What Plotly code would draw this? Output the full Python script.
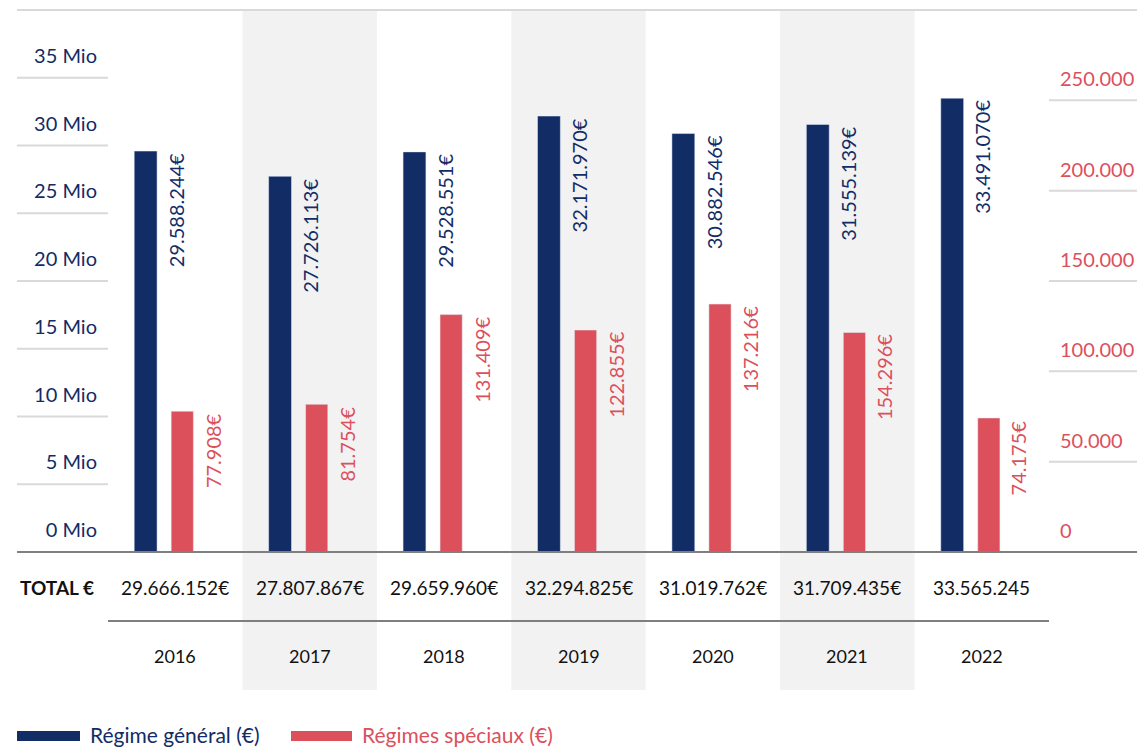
import plotly.graph_objects as go

years = ["2016", "2017", "2018", "2019", "2020", "2021", "2022"]
regime_general = [29588244, 27726113, 29528551, 32171970, 30882546, 31555139, 33491070]
regimes_speciaux = [77908, 81754, 131409, 122855, 137216, 154296, 74175]
# heights of the red bars as drawn in the source (2021 bar is drawn lower than its label)
regimes_speciaux_bar = [77908, 81754, 131409, 122855, 137216, 121500, 74175]
totals = ["29.666.152€", "27.807.867€", "29.659.960€", "32.294.825€",
          "31.019.762€", "31.709.435€", "33.565.245"]
left_ticks = [0, 5, 10, 15, 20, 25, 30, 35]
right_ticks = [0, 50000, 100000, 150000, 200000, 250000]

NAVY = "#122C66"
RED = "#DC505C"
BAND = "#F2F2F2"
GRID = "#D9D9D9"
RULE = "#7F7F7F"
FONT = "Lato"


def fmt(v):
    return f"{v:,}".replace(",", ".") + "€"


x = list(range(len(years)))
fig = go.Figure()

fig.add_trace(go.Bar(
    x=x, y=[v / 1e6 for v in regime_general], name="Régime général (€)",
    marker_color=NAVY, width=0.17, offset=-0.305, yaxis="y", showlegend=False,
))
fig.add_trace(go.Bar(
    x=x, y=regimes_speciaux_bar, name="Régimes spéciaux (€)",
    marker_color=RED, width=0.165, offset=-0.03, yaxis="y2", showlegend=False,
))

# vertical value labels next to each bar
for i in x:
    fig.add_annotation(x=i - 0.135, y=regime_general[i] / 1e6, xref="x", yref="y",
                       text=fmt(regime_general[i]), textangle=-90, showarrow=False,
                       xanchor="left", yanchor="top", xshift=5,
                       font=dict(family=FONT, size=20, color=NAVY))
    fig.add_annotation(x=i + 0.135, y=regimes_speciaux_bar[i], xref="x", yref="y2",
                       text=fmt(regimes_speciaux[i]), textangle=-90, showarrow=False,
                       xanchor="left", yanchor="top", xshift=5,
                       font=dict(family=FONT, size=20, color=RED))
    # totals and year rows under the chart
    fig.add_annotation(x=i, y=1 - 587 / 748, xref="x", yref="paper", text=totals[i],
                       showarrow=False, xanchor="center", yanchor="middle",
                       font=dict(family=FONT, size=19, color="#111111"))
    fig.add_annotation(x=i, y=1 - 656 / 748, xref="x", yref="paper", text=years[i],
                       showarrow=False, xanchor="center", yanchor="middle",
                       font=dict(family=FONT, size=18, color="#111111"))

# shaded columns for every other year
for i in x[1::2]:
    fig.add_shape(type="rect", xref="x", yref="paper", x0=i - 0.5, x1=i + 0.5,
                  y0=1 - 690 / 748, y1=1 - 10 / 748, fillcolor=BAND, line_width=0,
                  layer="below")

# side gridlines (only in the axis label columns)
for t in left_ticks[1:]:
    fig.add_shape(type="line", xref="paper", yref="y", x0=-91 / 941, x1=0, y0=t, y1=t,
                  line=dict(color=GRID, width=2))
for t in right_ticks[1:]:
    fig.add_shape(type="line", xref="paper", yref="y2", x0=1, x1=1 + 88 / 941, y0=t, y1=t,
                  line=dict(color=GRID, width=2))

# top rule, baseline and table rule
fig.add_shape(type="line", xref="paper", yref="paper", x0=-91 / 941, x1=1 + 88 / 941,
              y0=1 - 10 / 748, y1=1 - 10 / 748, line=dict(color=GRID, width=2))
fig.add_shape(type="line", xref="paper", yref="paper", x0=-91 / 941, x1=1 + 88 / 941,
              y0=1 - 552 / 748, y1=1 - 552 / 748, line=dict(color=RULE, width=2))
fig.add_shape(type="line", xref="paper", yref="paper", x0=0, x1=1,
              y0=1 - 621 / 748, y1=1 - 621 / 748, line=dict(color=RULE, width=2))

fig.add_annotation(x=-90 / 941, y=1 - 587 / 748, xref="paper", yref="paper",
                   text="<b>TOTAL €</b>", showarrow=False, xanchor="left", yanchor="middle",
                   font=dict(family=FONT, size=19, color="#111111"))

# legend drawn by hand
fig.add_shape(type="rect", xref="paper", yref="paper", x0=-91 / 941, x1=-28 / 941,
              y0=1 - 741 / 748, y1=1 - 731 / 748, fillcolor=NAVY, line_width=0)
fig.add_annotation(x=-20 / 941, y=1 - 734 / 748, xref="paper", yref="paper",
                   text="Régime général (€)", showarrow=False, xanchor="left",
                   yanchor="middle", font=dict(family=FONT, size=21, color=NAVY))
fig.add_shape(type="rect", xref="paper", yref="paper", x0=183 / 941, x1=244 / 941,
              y0=1 - 741 / 748, y1=1 - 731 / 748, fillcolor=RED, line_width=0)
fig.add_annotation(x=252 / 941, y=1 - 734 / 748, xref="paper", yref="paper",
                   text="Régimes spéciaux (€)", showarrow=False, xanchor="left",
                   yanchor="middle", font=dict(family=FONT, size=21, color=RED))

fig.update_layout(
    width=1137, height=748,
    margin=dict(l=108, r=88, t=0, b=0, autoexpand=False),
    paper_bgcolor="white", plot_bgcolor="rgba(0,0,0,0)",
    separators=",.",
    font=dict(family=FONT),
    xaxis=dict(range=[-0.5, 6.5], showticklabels=False, showgrid=False,
               zeroline=False, showline=False, automargin=False),
    yaxis=dict(domain=[1 - 552 / 748, 1 - 10 / 748], range=[0, 40],
               tickvals=left_ticks, ticktext=[f"{t} Mio" for t in left_ticks],
               ticks="", showgrid=False, zeroline=False, ticklabelshift=-22,
               ticklabelstandoff=10, automargin=False,
               tickfont=dict(family=FONT, size=20, color=NAVY)),
    yaxis2=dict(overlaying="y", side="right", range=[0, 300000],
                tickvals=right_ticks, tickformat=",.0f", ticks="",
                showgrid=False, zeroline=False, ticklabelshift=-21,
                ticklabelstandoff=10, automargin=False,
                tickfont=dict(family=FONT, size=20, color=RED)),
)

fig.write_html("out.html", config={"displayModeBar": False},
               post_script="document.body.style.margin='0';")
